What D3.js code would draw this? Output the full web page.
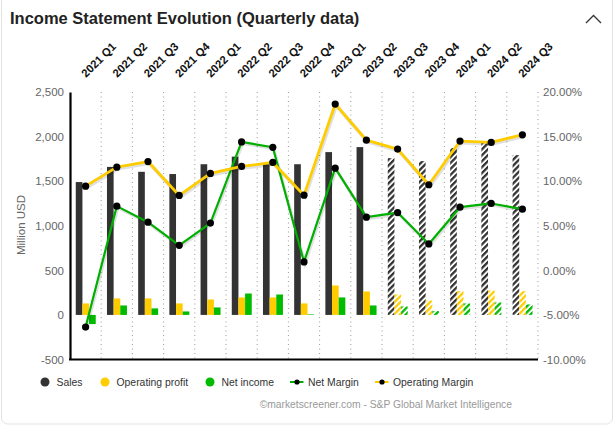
<!DOCTYPE html>
<html><head><meta charset="utf-8">
<script src="https://cdn.jsdelivr.net/npm/d3@7"></script>
<style>
html,body{margin:0;padding:0;background:#fff;}
svg{display:block;font-family:"Liberation Sans",Arial,sans-serif;}
</style></head>
<body><svg id="c" width="615" height="427"></svg>
<script>
const quarters = ["2021 Q1","2021 Q2","2021 Q3","2021 Q4","2022 Q1","2022 Q2","2022 Q3","2022 Q4","2023 Q1","2023 Q2","2023 Q3","2023 Q4","2024 Q1","2024 Q2","2024 Q3"];
const sales = [1490,1660,1605,1580,1690,1775,1690,1690,1826,1882,1758,1725,1871,1949,1792];
const operatingProfit = [129,185,185,129,173,196,196,129,330,263,229,162,266,274,266];
const netIncome = [-103,106,73,39,84,240,229,6,196,106,95,43,129,140,117];
const netMargin = [-6.36,7.2,5.4,2.8,5.3,14.4,13.8,0.94,11.46,5.96,6.48,2.96,7.08,7.5,6.86];
const operatingMargin = [9.44,11.57,12.2,8.4,10.87,11.65,12.1,8.43,18.65,14.6,13.6,9.6,14.5,14.35,15.2];
const estimated = [false,false,false,false,false,false,false,false,false,false,true,true,true,true,true];
const leftTicks = [-500,0,500,1000,1500,2000,2500];
const rightTicks = [-10,-5,0,5,10,15,20];

const svg = d3.select("#c");
const W = 615, H = 427;
const plot = {l:70, r:538, t:92, b:359.5};

// card
svg.append("rect").attr("x",1.5).attr("y",-6).attr("width",611).attr("height",H+3)
  .attr("rx",6).attr("fill","#fff").attr("stroke","#e3e3e3").attr("stroke-width",1);

svg.append("text").attr("x",10).attr("y",24).attr("font-size",16.5).attr("font-weight","bold")
  .attr("fill","#222").text("Income Statement Evolution (Quarterly data)");
svg.append("path").attr("d","M586,23 L593.5,15.5 L601,23").attr("fill","none").attr("stroke","#333").attr("stroke-width",1.3);

const colors = {sales:"#333333", op:"#ffcc00", net:"#00bb00"};
const defs = svg.append("defs");
function hatch(id,color){
  const p = defs.append("pattern").attr("id",id).attr("patternUnits","userSpaceOnUse")
    .attr("width",4.2).attr("height",4.2).attr("patternTransform","rotate(45)");
  p.append("rect").attr("width",4.2).attr("height",4.2).attr("fill","#fff");
  p.append("rect").attr("width",2.3).attr("height",4.2).attr("fill",color);
}
hatch("hs",colors.sales); hatch("ho",colors.op); hatch("hn",colors.net);

const x = d3.scaleBand().domain(quarters).range([plot.l, plot.r]).padding(0);
const bw = x.bandwidth();
const seriesKeys = ["sales","op","net"];
const xs = d3.scaleBand().domain(seriesKeys).range([bw*0.185, bw*0.825]).padding(0);
const yL = d3.scaleLinear().domain([-500,2500]).range([plot.b, plot.t]);
const yR = d3.scaleLinear().domain([-10,20]).range([plot.b, plot.t]);

// grid lines
svg.append("g").selectAll("line").data(quarters).join("line")
  .attr("x1",d=>x(d)+bw).attr("x2",d=>x(d)+bw)
  .attr("y1",plot.t).attr("y2",plot.b)
  .attr("stroke","#999").attr("stroke-width",1).attr("stroke-dasharray","1,3.5");

// bars
const seriesVals = {sales:sales, op:operatingProfit, net:netIncome};
const hatchId = {sales:"hs", op:"ho", net:"hn"};
const gb = svg.append("g");
seriesKeys.forEach(k=>{
  gb.selectAll(null).data(quarters).join("rect")
    .attr("x",(d)=>x(d)+xs(k))
    .attr("width",xs.bandwidth())
    .attr("y",(d,i)=>yL(Math.max(0,seriesVals[k][i])))
    .attr("height",(d,i)=>Math.abs(yL(seriesVals[k][i])-yL(0)))
    .attr("fill",(d,i)=>estimated[i] ? `url(#${hatchId[k]})` : colors[k]);
});

// axes
const axL = svg.append("g").attr("transform",`translate(${plot.l},0)`)
  .call(d3.axisLeft(yL).tickValues(leftTicks).tickSize(0).tickPadding(6)
    .tickFormat(d=>d3.format(",")(d).replace("\u2212","-")));
axL.select(".domain").attr("stroke","#000").attr("stroke-width",2.2);
axL.selectAll("text").attr("font-size",11.5).attr("fill","#666").attr("font-family","Liberation Sans, Arial, sans-serif");

const axR = svg.append("g").attr("transform",`translate(${plot.r},0)`)
  .call(d3.axisRight(yR).tickValues(rightTicks).tickSize(0).tickPadding(5)
    .tickFormat(d=>d3.format(".2f")(d).replace("\u2212","-")+"%"));
axR.select(".domain").attr("stroke","none");
axR.selectAll("text").attr("font-size",11.5).attr("fill","#666").attr("font-family","Liberation Sans, Arial, sans-serif");

svg.append("line").attr("x1",plot.l-1).attr("x2",plot.r).attr("y1",plot.b).attr("y2",plot.b)
  .attr("stroke","#000").attr("stroke-width",2.2);

svg.append("text").attr("transform",`translate(25,225) rotate(-90)`).attr("text-anchor","middle")
  .attr("font-size",11.5).attr("fill","#666").text("Million USD");

// category labels
svg.append("g").selectAll("text").data(quarters).join("text")
  .attr("transform",d=>`translate(${x(d)+bw/2+0.5},78) rotate(-45)`)
  .attr("font-size",11.3).attr("font-weight","bold").attr("fill","#111").text(d=>d);

// lines
function drawLine(vals,color,w){
  const line = d3.line().x((d,i)=>x(quarters[i])+bw/2).y(d=>yR(d));
  const g = svg.append("g");
  g.append("path").datum(vals).attr("d",line).attr("fill","none").attr("stroke","#000")
    .attr("stroke-opacity",0.12).attr("stroke-width",w+1).attr("transform","translate(1,1.5)");
  g.append("path").datum(vals).attr("d",line).attr("fill","none").attr("stroke",color)
    .attr("stroke-width",w).attr("stroke-linejoin","round");
  g.selectAll("circle").data(vals).join("circle")
    .attr("cx",(d,i)=>x(quarters[i])+bw/2).attr("cy",d=>yR(d)).attr("r",3.6).attr("fill","#000");
}
drawLine(netMargin,"#00b000",2.2);
drawLine(operatingMargin,"#ffcc00",2.8);

// legend
const lg = svg.append("g").attr("font-size",10.4).attr("fill","#333");
const ly = 382;
[[45,"Sales",colors.sales],[105,"Operating profit",colors.op],[210,"Net income",colors.net]].forEach(([cx,t,c])=>{
  lg.append("circle").attr("cx",cx).attr("cy",ly).attr("r",4.5).attr("fill",c);
  lg.append("text").attr("x",cx+11.5).attr("y",ly+4).text(t);
});
[[290,"Net Margin","#00b000"],[375,"Operating Margin","#ffcc00"]].forEach(([x0,t,c])=>{
  lg.append("line").attr("x1",x0).attr("x2",x0+13.5).attr("y1",ly).attr("y2",ly).attr("stroke",c).attr("stroke-width",2);
  lg.append("circle").attr("cx",x0+7).attr("cy",ly).attr("r",2.6).attr("fill","#000");
  lg.append("text").attr("x",x0+18).attr("y",ly+4).text(t);
});

svg.append("text").attr("x",512).attr("y",408).attr("text-anchor","end").attr("font-size",10.3)
  .attr("fill","#999").text("©marketscreener.com - S&P Global Market Intelligence");
</script></body></html>
